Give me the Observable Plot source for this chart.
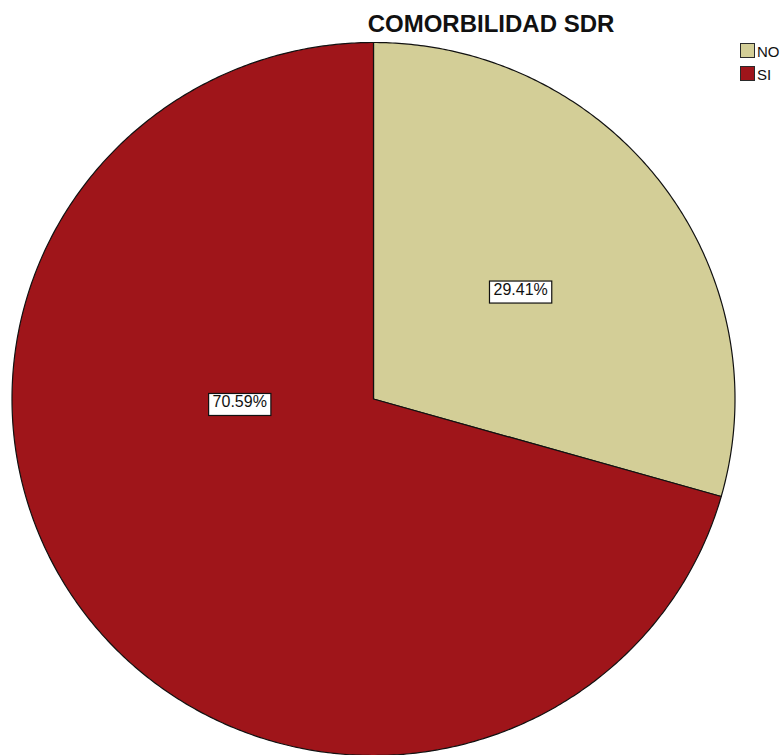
<!DOCTYPE html>
<html>
<head>
<meta charset="utf-8">
<script src="https://cdn.jsdelivr.net/npm/d3@7"></script>
<script src="https://cdn.jsdelivr.net/npm/@observablehq/plot@0.6"></script>
<style>
  html, body { margin: 0; padding: 0; background: #fff; }
  #wrap { position: relative; width: 783px; height: 755px; overflow: hidden; font-family: "Liberation Sans", Arial, sans-serif; }
  #chart { position: absolute; left: 0; top: 0; }
  #title { position: absolute; left: 241px; width: 500px; top: 12px; text-align: center; font-size: 24px; line-height: 24px; font-weight: bold; color: #111; white-space: nowrap; }
  .sw { position: absolute; left: 740px; width: 13px; height: 13px; border: 1.5px solid #2a2a2a; }
  .lt { position: absolute; left: 757px; font-size: 15px; line-height: 15px; color: #111; white-space: nowrap; }
</style>
</head>
<body>
<div id="wrap">
  <div id="chart"></div>
  <div id="title"></div>
  <div id="legend"></div>
</div>
<script>
// ---- data ----
const chartTitle = "COMORBILIDAD SDR";
const categories = ["NO", "SI"];
const percents = [29.41, 70.59];
const colors = ["#d3ce97", "#9f151a"];

// ---- geometry from data ----
const total = d3.sum(percents);
let acc = 0;
const slices = categories.map((c, i) => {
  const a0 = acc / total * 2 * Math.PI;
  acc += percents[i];
  const a1 = acc / total * 2 * Math.PI;
  return {cat: c, a0, a1, pct: percents[i]};
});
const pts = [];
for (const s of slices) {
  pts.push({cat: s.cat, x: 0, y: 0});
  const n = Math.max(2, Math.ceil((s.a1 - s.a0) / (Math.PI / 360)));
  for (let k = 0; k <= n; k++) {
    const a = s.a0 + (s.a1 - s.a0) * k / n;
    pts.push({cat: s.cat, x: Math.sin(a), y: Math.cos(a)});
  }
}
// label placement (layout): NO at mid-angle, SI toward the left
const labels = slices.map((s, i) => {
  const ang = i === 0 ? (s.a0 + s.a1) / 2 : 1.5 * Math.PI;
  const r = i === 0 ? 0.51 : 0.37;
  return {cat: s.cat, x: r * Math.sin(ang), y: r * Math.cos(ang) - (i === 0 ? 0 : 0.008), text: s.pct.toFixed(2) + "%"};
});

const chart = Plot.plot({
  width: 783,
  height: 755,
  margin: 0,
  style: {background: "transparent", fontFamily: "'Liberation Sans', Arial, sans-serif"},
  x: {domain: [-1, 1], range: [11.5, 734.5], axis: null},
  y: {domain: [-1, 1], range: [755, 42], axis: null},
  color: {domain: categories, range: colors},
  marks: [
    Plot.line(pts, {x: "x", y: "y", z: "cat", fill: "cat", stroke: "#111", strokeWidth: 1.2, curve: "linear-closed"}),
    Plot.text(labels, {x: "x", y: "y", text: "text", fontSize: 16, fill: "#111"})
  ]
});
document.getElementById("chart").appendChild(chart);

// white boxes behind the labels
const tg = chart.querySelector('g[aria-label="text"]');
if (tg) {
  tg.querySelectorAll("text").forEach(t => {
    const b = t.getBBox();
    const r = document.createElementNS("http://www.w3.org/2000/svg", "rect");
    r.setAttribute("x", b.x - 4);
    r.setAttribute("y", b.y + 0.5);
    r.setAttribute("width", b.width + 8);
    r.setAttribute("height", b.height + 5);
    r.setAttribute("fill", "#fff");
    r.setAttribute("stroke", "#111");
    r.setAttribute("stroke-width", 1.2);
    const tr = t.getAttribute("transform");
    if (tr) r.setAttribute("transform", tr);
    tg.insertBefore(r, t);
  });
}

document.getElementById("title").textContent = chartTitle;
const legend = document.getElementById("legend");
categories.forEach((c, i) => {
  const sw = document.createElement("div");
  sw.className = "sw";
  sw.style.top = (43 + i * 23) + "px";
  sw.style.background = colors[i];
  legend.appendChild(sw);
  const lt = document.createElement("div");
  lt.className = "lt";
  lt.style.top = (44 + i * 23) + "px";
  lt.textContent = c;
  legend.appendChild(lt);
});
</script>
</body>
</html>
